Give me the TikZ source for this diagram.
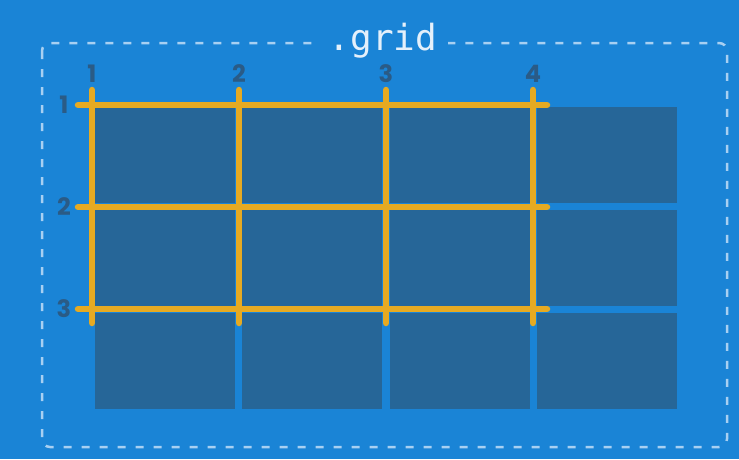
\documentclass[tikz,border=0pt]{standalone}
\usepackage{fontspec}
\setmainfont{Poppins}
\setmonofont{DejaVu Sans Mono}
\definecolor{bgblue}{HTML}{1A84D6}
\definecolor{cellblue}{HTML}{266698}
\definecolor{dashblue}{HTML}{A8D0F2}
\definecolor{gridgold}{HTML}{E6AA22}
\definecolor{numblue}{HTML}{2A5B86}
\definecolor{titlewhite}{HTML}{E4F0FB}

\tikzset{
  cell/.style={fill=cellblue},
  gridline/.style={draw=gridgold, line width=6.5pt, line cap=round},
  linenum/.style={text=numblue, inner sep=0pt, font=\bfseries\fontsize{24}{24}\selectfont},
  frame/.style={draw=dashblue, line width=2.5pt, dash pattern=on 8pt off 10pt, rounded corners=8pt},
}

\begin{document}
\begin{tikzpicture}[x=1pt,y=-1pt]
  % background
  \fill[bgblue] (0,0) rectangle (739,459);
  \useasboundingbox (0,0) rectangle (739,459);

  % container
  \draw[frame] (42,43) rectangle (727,447);
  \node[fill=bgblue, inner xsep=11pt, inner ysep=2pt, anchor=base, text=titlewhite,
        font=\ttfamily\fontsize{36}{36}\selectfont] (title) at (383,50) {.grid};

  % grid items
  \foreach \c in {0,...,3}
    \foreach \r in {0,...,2}
      \fill[cell] ({95+147.3*\c},{107+103*\r}) rectangle ++(140,96);

  % grid lines
  \foreach \i [evaluate=\i as \x using {92+147*(\i-1)}] in {1,...,4} {
    \coordinate (v\i top) at (\x,90);
    \coordinate (v\i bot) at (\x,323);
    \draw[gridline] (v\i top) -- (v\i bot);
    \node[linenum] (c\i) at (\x,74) {\i};
  }
  \foreach \i [evaluate=\i as \y using {105+102*(\i-1)}] in {1,...,3} {
    \coordinate (h\i left) at (78,\y);
    \coordinate (h\i right) at (547,\y);
    \draw[gridline] (h\i left) -- (h\i right);
    \node[linenum] (r\i) at (64,\y) {\i};
  }
\end{tikzpicture}
\end{document}
